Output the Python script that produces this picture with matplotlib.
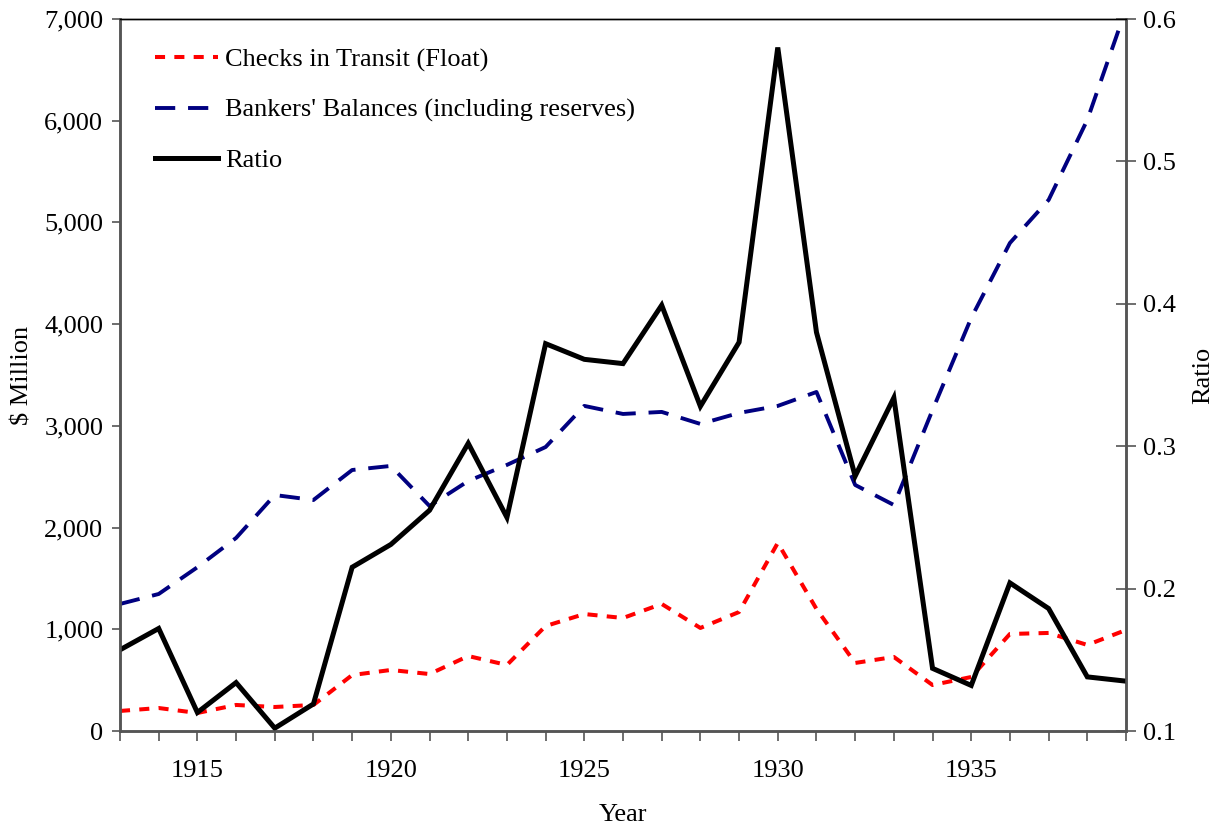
import numpy as np
import matplotlib
matplotlib.use("Agg")
import matplotlib.pyplot as plt
from matplotlib.ticker import FuncFormatter, MultipleLocator

plt.rcParams['font.family'] = ['Liberation Serif', 'DejaVu Serif']
FS = 19

years = list(range(1913, 1940))
checks_float = [197, 226, 177, 256, 236, 256, 550, 600, 560, 737, 649, 1032, 1150,
                1111, 1249, 1013, 1170, 1849, 1200, 669, 728, 452, 531, 954, 964,
                846, 993]
bankers_balances = [1249, 1347, 1610, 1898, 2320, 2271, 2566, 2606, 2212, 2458, 2616,
                    2792, 3196, 3117, 3137, 3019, 3127, 3196, 3333, 2419, 2222, 3156,
                    4061, 4798, 5221, 6008, 7100]
ratio = [0.157, 0.172, 0.113, 0.134, 0.102, 0.119, 0.215, 0.231, 0.255, 0.302, 0.250,
         0.372, 0.361, 0.358, 0.399, 0.328, 0.373, 0.580, 0.380, 0.279, 0.334, 0.144,
         0.132, 0.204, 0.186, 0.138, 0.135]

fig = plt.figure(figsize=(12.17, 8.27), dpi=100)
ax = fig.add_axes([120 / 1217, 96 / 827, 1006 / 1217, 712 / 827])
bx = ax.twinx()

l1, = ax.plot(years, checks_float, color='#ff0000', lw=2.9, dashes=(2.5, 2.3),
              label='Checks in Transit (Float)')
l2, = ax.plot(years, bankers_balances, color='#000080', lw=2.8, dashes=(5.2, 3.3),
              label="Bankers' Balances (including reserves)")
l3, = bx.plot(years, ratio, color='black', lw=3.6, solid_joinstyle='miter',
              label='Ratio')

ax.set_xlim(1913, 1939)
ax.set_ylim(0, 7000)
bx.set_ylim(0.1, 0.6)
ax.yaxis.set_major_locator(MultipleLocator(1000))
ax.yaxis.set_major_formatter(FuncFormatter(lambda v, p: f'{int(v):,}'))
bx.yaxis.set_major_locator(MultipleLocator(0.1))
bx.yaxis.set_major_formatter(FuncFormatter(lambda v, p: f'{v:.1f}'))
ax.set_xticks([1915, 1920, 1925, 1930, 1935])
ax.set_xticks(years, minor=True)

ax.tick_params(axis='x', which='both', direction='out', length=7, width=1.2,
               labelsize=FS, pad=14, color='#555555')
ax.tick_params(axis='y', direction='out', length=6, width=1.2, labelsize=FS,
               pad=6, color='#555555')
bx.tick_params(axis='y', direction='inout', length=14, width=1.2, labelsize=FS,
               pad=5, color='#555555')

for a in (ax, bx):
    for s in ['left', 'bottom', 'right']:
        a.spines[s].set_color('#555555')
        a.spines[s].set_linewidth(1.8)
    a.spines['top'].set_linewidth(1)

ax.set_xlabel('Year', fontsize=FS, labelpad=16)
ax.set_ylabel('$ Million', fontsize=FS, labelpad=8)
bx.set_ylabel('Ratio', fontsize=FS, labelpad=12)

ax.legend(handles=[l1, l2, l3], loc='upper left',
          bbox_to_anchor=(35 / 1006, (731 - 48) / 712),
          frameon=False, fontsize=FS, handlelength=2.4, handletextpad=0.25,
          labelspacing=1.0, borderpad=0, borderaxespad=0)

fig.savefig('out.png', dpi=100)
